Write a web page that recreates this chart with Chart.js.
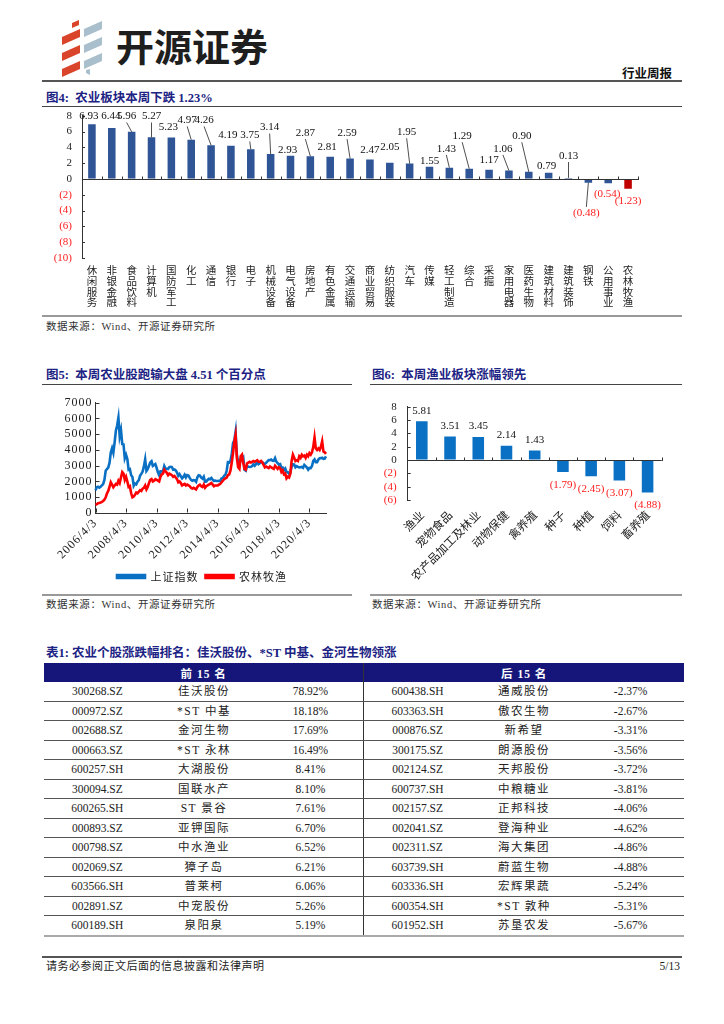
<!DOCTYPE html>
<html><head><meta charset="utf-8">
<script src="https://cdn.jsdelivr.net/npm/chart.js@4.4.0/dist/chart.umd.min.js"></script>
<style>
html,body{margin:0;padding:0;background:#fff;}
#page{position:relative;width:724px;height:1024px;overflow:hidden;font-family:"Liberation Serif","Noto Sans CJK SC",serif;color:#222;}
.abs{position:absolute;}
.title{position:absolute;font-weight:bold;color:#1c2384;font-size:12.5px;line-height:16px;white-space:nowrap;}
.hl{position:absolute;height:0;}
.src{position:absolute;font-size:10.5px;line-height:14px;color:#333;white-space:nowrap;letter-spacing:0.6px}
canvas{position:absolute;}
#tbl{position:absolute;left:44px;top:663px;width:640px;border-collapse:collapse;table-layout:fixed;font-size:11.5px;color:#222;}
#tbl th{background:#16167a;color:#fff;font-weight:bold;height:19px;padding:0;font-size:11.5px;letter-spacing:1px;}
#tbl th.l{border-right:1px solid #333;}
#tbl td{height:18.5px;padding:0;text-align:center;border-bottom:1px solid #555;line-height:18px;}
#tbl td.nm{letter-spacing:1.5px;}
#tbl td.sep{border-right:1px solid #333;}
#tbl tr:last-child td{border-bottom:2px solid #aaa;}
</style></head>
<body><div id="page">
<svg class="abs" style="left:58px;top:20px" width="48" height="58" viewBox="0 0 48 58">
 <g fill="#d9442b">
  <polygon points="14,3 21,0 21,5 14,8"/>
  <polygon points="4,17 22,9 22,17 4,25"/>
  <polygon points="4,33 22,25 22,33 4,41"/>
  <polygon points="4,49 22,41 22,49 4,57"/>
 </g>
 <g fill="#a9bfcc">
  <polygon points="26,9 44,1 44,9 26,17"/>
  <polygon points="26,25 44,17 44,25 26,33"/>
  <polygon points="26,41 44,33 44,41 26,49"/>
  <polygon points="28,50 32,49 32,55 28,53"/>
 </g>
</svg>
<div class="abs" style="left:116px;top:19px;font-family:'Noto Sans CJK SC';font-weight:bold;font-size:38px;line-height:52px;color:#1e1e1e;">开源证券</div>
<div class="abs" style="right:52px;top:66px;font-weight:bold;font-size:12.5px;line-height:16px;color:#111;">行业周报</div>
<div class="hl" style="left:42px;top:80px;width:640px;border-top:2px solid #555;"></div>

<div class="title" style="left:46px;top:90px;">图4:&nbsp;&nbsp;农业板块本周下跌 1.23%</div>
<div class="hl" style="left:42px;top:106px;width:640px;border-top:1.5px solid #444;"></div>
<canvas id="c1" width="605" height="207" style="left:40px;top:108px;"></canvas>
<div class="hl" style="left:42px;top:315px;width:640px;border-top:2px solid #999;"></div>
<div class="src" style="left:46px;top:320px;">数据来源：Wind、开源证券研究所</div>

<div class="title" style="left:46px;top:367px;">图5:&nbsp;&nbsp;本周农业股跑输大盘 4.51 个百分点</div>
<div class="hl" style="left:42px;top:384px;width:310px;border-top:1.5px solid #444;"></div>
<div class="title" style="left:372px;top:367px;">图6:&nbsp;&nbsp;本周渔业板块涨幅领先</div>
<div class="hl" style="left:370px;top:384px;width:312px;border-top:1.5px solid #444;"></div>
<canvas id="c2" width="324" height="200" style="left:40px;top:392px;"></canvas>
<canvas id="c3" width="322" height="198" style="left:360px;top:392px;"></canvas>
<div class="hl" style="left:42px;top:594px;width:310px;border-top:2px solid #999;"></div>
<div class="hl" style="left:370px;top:594px;width:312px;border-top:2px solid #999;"></div>
<div class="src" style="left:46px;top:598px;">数据来源：Wind、开源证券研究所</div>
<div class="src" style="left:372px;top:598px;">数据来源：Wind、开源证券研究所</div>

<div class="title" style="left:46px;top:645px;">表1:&nbsp;农业个股涨跌幅排名：佳沃股份、*ST 中基、金河生物领涨</div>
<table id="tbl"><colgroup><col><col><col><col><col><col></colgroup>
<thead><tr><th colspan="3" class="l">前 15 名</th><th colspan="3">后 15 名</th></tr></thead>
<tbody id="tb"></tbody></table>

<div class="hl" style="left:42px;top:956px;width:640px;border-top:2px solid #555;"></div>
<div class="abs" style="left:46px;top:959px;font-size:11px;line-height:14px;color:#222;letter-spacing:0.5px;">请务必参阅正文后面的信息披露和法律声明</div>
<div class="abs" style="right:44px;top:959px;font-size:11.5px;line-height:14px;color:#222;">5/13</div>
</div>
<script>
// ---------- 图4 data ----------
const sectors = ['休闲服务','非银金融','食品饮料','计算机','国防军工','化工','通信','银行','电子','机械设备','电气设备','房地产','有色金属','交通运输','商业贸易','纺织服装','汽车','传媒','轻工制造','综合','采掘','家用电器','医药生物','建筑材料','建筑装饰','钢铁','公用事业','农林牧渔'];
const sectorChg = [6.93,6.44,5.96,5.27,5.23,4.97,4.26,4.19,3.75,3.14,2.93,2.87,2.81,2.59,2.47,2.05,1.95,1.55,1.43,1.29,1.17,1.06,0.90,0.79,0.13,-0.48,-0.54,-1.23];
// label layout for 图4 (label height in axis units, x shift px, leader line)
const sectorLabelAt = [7.9,7.9,7.9,7.9,6.6,7.4,7.4,5.5,5.5,6.5,3.7,5.8,4.0,5.8,3.7,4.0,5.9,2.3,3.8,5.4,2.4,3.8,5.4,1.6,2.9,-4.3,-1.9,-2.75];
const sectorLabelDx = [-3,-1,-5,0,-3,-4,-7,-3,-1,-1,-3,-5,-3,-3,0,0,-3,0,-3,-7,0,-6,-7,-2,0,-2,-1,0];
const sectorLeader = [0,0,1,1,0,1,1,0,1,1,0,1,0,1,0,0,1,0,1,1,0,1,1,0,1,1,0,0];

// ---------- 图5 data (monthly, 2006/4 .. 2021/5) ----------
const startYear = 2006, startMonth = 4, endYear = 2021, endMonth = 5;
const dateTicks = ['2006/4/3','2008/4/3','2010/4/3','2012/4/3','2014/4/3','2016/4/3','2018/4/3','2020/4/3'];
const sseIndex = [
 1440,1640,1670,1610,1660,1750,1840,2100,2680,
 2790,2880,3180,3840,4110,3820,4470,5220,5550,6050,4870,5260,
 4380,4350,3470,3690,3430,2740,2780,2400,2290,1730,1870,1820,
 1990,2080,2370,2480,2630,2960,3410,2670,2780,3000,3200,3280,
 2990,3050,3110,2870,2590,2400,2640,2640,2660,2980,2820,2810,
 2790,2910,2930,2910,2740,2760,2700,2570,2360,2470,2330,2200,
 2290,2430,2260,2400,2370,2230,2100,2050,2090,2070,1980,2270,
 2390,2370,2240,2180,2300,1980,1990,2100,2170,2140,2220,2120,
 2030,2060,2030,2030,2040,2050,2200,2220,2360,2420,2680,3230,
 3210,3310,3750,4440,4610,5150,3700,3210,3050,3380,3450,3540,
 2740,2690,3000,2940,2920,2930,2980,3090,3000,3100,3250,3100,
 3160,3240,3220,3150,3120,3190,3270,3360,3350,3390,3320,3310,
 3480,3260,3170,3080,3100,2850,2880,2730,2820,2600,2590,2490,
 2580,2940,3090,3080,2900,2980,2930,2890,2910,2930,2870,3050,
 2980,2880,2750,2860,2850,2980,3310,3400,3220,3220,3390,3470,
 3480,3510,3440,3450,3600];
const agriIndex = [
 520,560,620,640,660,700,760,840,1000,
 1240,1400,1650,1950,1800,1640,1750,1850,1800,2050,1900,2250,
 2600,2500,2100,2300,2000,1650,1700,1250,1000,1050,1150,1300,
 1250,1350,1450,1400,1550,1600,1750,1500,1650,1900,2100,2150,
 2000,2050,2150,2100,2050,2000,2300,2450,2500,2750,2650,2550,
 2400,2500,2450,2400,2300,2350,2250,2150,1950,2000,1900,1750,
 1800,1850,1750,1800,1750,1700,1600,1550,1600,1550,1500,1650,
 1750,1800,1700,1650,1800,1600,1700,1750,1800,1850,1900,1800,
 1700,1750,1750,1750,1800,1850,1950,2050,2150,2200,2250,2400,
 2450,2700,3200,3800,4500,4950,3500,2900,2800,3600,3700,3200,
 2800,2750,3150,3200,3250,3200,3250,3300,3250,3300,3350,3250,
 3250,3300,3200,3050,2900,2950,2900,2850,2950,2900,2850,2800,
 3000,2900,2800,2900,2850,2600,2700,2450,2500,2200,2300,2250,
 2500,3300,3700,3500,3300,3350,3300,3600,3500,3700,3600,3650,
 3500,3700,3600,3800,3700,3850,4200,4800,4100,4000,4100,4000,
 4200,4550,3900,3850,3750];
const months = [];
for (let y = startYear, m = startMonth; y < endYear || (y === endYear && m <= endMonth); ) {
  months.push(y + '/' + m + '/3');
  m++; if (m > 12) { m = 1; y++; }
}

// ---------- 图6 data ----------
const subSectors = ['渔业','宠物食品','农产品加工及林业','动物保健','禽养殖','种子','种植','饲料','畜养殖'];
const subChg = [5.81,3.51,3.45,2.14,1.43,-1.79,-2.45,-3.07,-4.88];

// ---------- 表1 data ----------
const topCodes = ['300268.SZ','000972.SZ','002688.SZ','000663.SZ','600257.SH','300094.SZ','600265.SH','000893.SZ','000798.SZ','002069.SZ','603566.SH','002891.SZ','600189.SH'];
const topNames = ['佳沃股份','*ST 中基','金河生物','*ST 永林','大湖股份','国联水产','ST 景谷','亚钾国际','中水渔业','獐子岛','普莱柯','中宠股份','泉阳泉'];
const topPct = ['78.92%','18.18%','17.69%','16.49%','8.41%','8.10%','7.61%','6.70%','6.52%','6.21%','6.06%','5.26%','5.19%'];
const botCodes = ['600438.SH','603363.SH','000876.SZ','300175.SZ','002124.SZ','600737.SH','002157.SZ','002041.SZ','002311.SZ','603739.SH','603336.SH','600354.SH','601952.SH'];
const botNames = ['通威股份','傲农生物','新希望','朗源股份','天邦股份','中粮糖业','正邦科技','登海种业','海大集团','蔚蓝生物','宏辉果蔬','*ST 敦种','苏垦农发'];
const botPct = ['-2.37%','-2.67%','-3.31%','-3.56%','-3.72%','-3.81%','-4.06%','-4.62%','-4.86%','-4.88%','-5.24%','-5.31%','-5.67%'];

const tb = document.getElementById('tb');
topCodes.forEach((c, i) => {
  const tr = document.createElement('tr');
  tr.innerHTML = '<td>' + c + '</td><td class="nm">' + topNames[i] + '</td><td class="sep">' + topPct[i] +
    '</td><td>' + botCodes[i] + '</td><td class="nm">' + botNames[i] + '</td><td>' + botPct[i] + '</td>';
  tb.appendChild(tr);
});

// ---------- charts ----------
const SERIF = '"Liberation Serif","Noto Sans CJK SC",serif';
const CJK = '"Noto Sans CJK SC","Liberation Serif",sans-serif';
Chart.defaults.font.family = SERIF;
Chart.defaults.color = '#222';
const RED = '#ff1a1a';
const negFmt = v => v < 0 ? '(' + (-v) + ')' : String(v);
const hiddenTicks = len => ({display: true, drawOnChartArea: false, drawTicks: true, tickLength: len, color: 'rgba(0,0,0,0)'});

const spacing = {
  id: 'spacing',
  beforeUpdate(chart, a, o) { if (o && o.px) chart.ctx.letterSpacing = o.px; },
  beforeDraw(chart, a, o) { if (o && o.px) chart.ctx.letterSpacing = o.px; }
};

const decor = {
  id: 'decor',
  afterDatasetsDraw(chart, args, o) {
    if (!o || !o.on) return;
    const {ctx, chartArea: a, scales: {x, y}} = chart;
    ctx.save();
    ctx.strokeStyle = o.color; ctx.lineWidth = 1;
    const L = (x1, y1, x2, y2) => { ctx.beginPath(); ctx.moveTo(x1, y1); ctx.lineTo(x2, y2); ctx.stroke(); };
    y.ticks.forEach((t, i) => { const py = Math.round(y.getPixelForTick(i)) + 0.5; L(a.left, py, a.left + o.tick, py); });
    const by = o.zero ? Math.round(y.getPixelForValue(0)) + 0.5 : Math.round(a.bottom) - 0.5;
    if (o.zero) L(a.left, by, a.right, by);
    if (o.bounds) {
      const n = chart.data.labels.length;
      for (let i = 1; i <= n; i++) { const px = Math.round(x.getPixelForValue(i - 0.5)) + 0.5; L(px, by - o.tick, px, by + 0.5); }
    } else {
      x.ticks.forEach((t, i) => {
        if (t.label == null || t.label === '') return;
        const px = Math.round(x.getPixelForTick(i)) + 0.5; L(px, by - o.tick, px, by);
      });
    }
    ctx.restore();
  }
};

const barLabels = {
  id: 'barLabels',
  afterDatasetsDraw(chart, args, o) {
    if (!o || !o.values) return;
    const {ctx} = chart; const y = chart.scales.y;
    const meta = chart.getDatasetMeta(0);
    ctx.save();
    ctx.font = '11px "Liberation Serif"';
    ctx.textAlign = 'center'; ctx.textBaseline = 'middle';
    meta.data.forEach((bar, i) => {
      const v = o.values[i];
      const txt = v < 0 ? '(' + Math.abs(v).toFixed(2) + ')' : v.toFixed(2);
      const lx = bar.x + (o.dx ? o.dx[i] : 0);
      const ly = o.at ? y.getPixelForValue(o.at[i]) : (v >= 0 ? bar.y - o.gapPos : bar.y + o.gapNeg);
      if (o.leader && o.leader[i]) {
        ctx.strokeStyle = '#222'; ctx.lineWidth = 0.8;
        ctx.beginPath();
        ctx.moveTo(lx, v >= 0 ? ly + 6 : ly - 6);
        ctx.lineTo(bar.x, bar.y); ctx.stroke();
      }
      ctx.fillStyle = v < 0 ? RED : '#111';
      ctx.fillText(txt, lx, ly);
    });
    ctx.restore();
  }
};

// 图4
new Chart(document.getElementById('c1'), {
  type: 'bar',
  data: {
    labels: sectors.map(s => s.split('')),
    datasets: [{
      data: sectorChg,
      backgroundColor: sectorChg.map((v, i) => i === sectorChg.length - 1 ? '#c00000' : '#2f5597'),
      barPercentage: 0.38, categoryPercentage: 1
    }]
  },
  options: {
    responsive: false, animation: false,
    layout: {padding: {top: 7.7, right: 7, left: 0, bottom: 0}},
    plugins: {
      legend: {display: false}, tooltip: {enabled: false},
      decor: {on: true, color: '#333', tick: 3, zero: true, bounds: true},
      barLabels: {values: sectorChg, at: sectorLabelAt, dx: sectorLabelDx, leader: sectorLeader}
    },
    scales: {
      x: {
        grid: {display: false, drawTicks: false}, border: {display: false},
        ticks: {font: {family: CJK, size: 10.5, lineHeight: 1.02}, color: '#222', padding: 7, maxRotation: 0, autoSkip: false},
        afterFit(s) { s.height = 57; }
      },
      y: {
        min: -10, max: 8,
        ticks: {stepSize: 2, autoSkip: false, callback: negFmt, color: c => c.tick.value < 0 ? RED : '#222', font: {family: SERIF, size: 11}, padding: 1},
        grid: hiddenTicks(9), border: {color: '#333'},
        afterFit(s) { s.width = 42; }
      }
    }
  },
  plugins: [decor, barLabels]
});

// 图5
new Chart(document.getElementById('c2'), {
  type: 'line',
  data: {
    labels: months,
    datasets: [
      {label: '上证指数', data: sseIndex, borderColor: '#0a70c4', backgroundColor: '#0a70c4', borderWidth: 2.6, pointRadius: 0, order: 2},
      {label: '农林牧渔', data: agriIndex, borderColor: '#ff0000', backgroundColor: '#ff0000', borderWidth: 2.6, pointRadius: 0, order: 1}
    ]
  },
  options: {
    responsive: false, animation: false,
    layout: {padding: {top: 10.7, right: 0, left: 0, bottom: 0}},
    plugins: {
      tooltip: {enabled: false},
      spacing: {px: '1px'},
      legend: {position: 'bottom', labels: {boxWidth: 28, boxHeight: 3, padding: 7, font: {family: CJK, size: 11}, color: '#222',
        sort: (a, b) => a.datasetIndex - b.datasetIndex}},
      decor: {on: true, color: '#333', tick: 4, zero: false, bounds: false}
    },
    scales: {
      x: {
        grid: {display: false, drawTicks: false}, border: {color: '#333'},
        ticks: {autoSkip: false, minRotation: 45, maxRotation: 45, padding: 3, font: {family: SERIF, size: 12}, color: '#222',
          callback(value) { const l = this.getLabelForValue(value); return dateTicks.includes(l) ? l : null; }},
        afterFit(s) { s.height = 51; }
      },
      y: {
        min: 0, max: 7000,
        ticks: {stepSize: 1000, autoSkip: false, callback: v => String(v), font: {family: SERIF, size: 12}, color: '#222', padding: 3},
        grid: {display: false, drawTicks: false}, border: {color: '#333'},
        afterFit(s) { s.width = 55.5; }
      },
      yPad: {
        position: 'right', display: true, min: 0, max: 1,
        ticks: {display: false}, grid: {display: false, drawTicks: false}, border: {display: false},
        afterFit(s) { s.width = 38; }
      }
    }
  },
  plugins: [spacing, decor]
});

// 图6
new Chart(document.getElementById('c3'), {
  type: 'bar',
  data: {
    labels: subSectors,
    datasets: [{data: subChg, backgroundColor: '#0a70c4', barPercentage: 0.41, categoryPercentage: 1}]
  },
  options: {
    responsive: false, animation: false,
    layout: {padding: {top: 14.7, right: 20.3, left: 0, bottom: 0}},
    plugins: {
      legend: {display: false}, tooltip: {enabled: false},
      decor: {on: true, color: '#333', tick: 3, zero: true, bounds: true},
      barLabels: {values: subChg, gapPos: 10.5, gapNeg: 12.7}
    },
    scales: {
      x: {
        grid: {display: false, drawTicks: false}, border: {display: false},
        ticks: {autoSkip: false, minRotation: 45, maxRotation: 45, padding: 8, font: {family: CJK, size: 11.5}, color: '#222'},
        afterFit(s) { s.height = 90; }
      },
      y: {
        min: -6, max: 8,
        ticks: {stepSize: 2, autoSkip: false, callback: negFmt, color: c => c.tick.value < 0 ? RED : '#222', font: {family: SERIF, size: 11}, padding: 1},
        grid: hiddenTicks(10), border: {color: '#333'},
        afterFit(s) { s.width = 47.7; }
      }
    }
  },
  plugins: [decor, barLabels]
});
</script>
</body></html>
